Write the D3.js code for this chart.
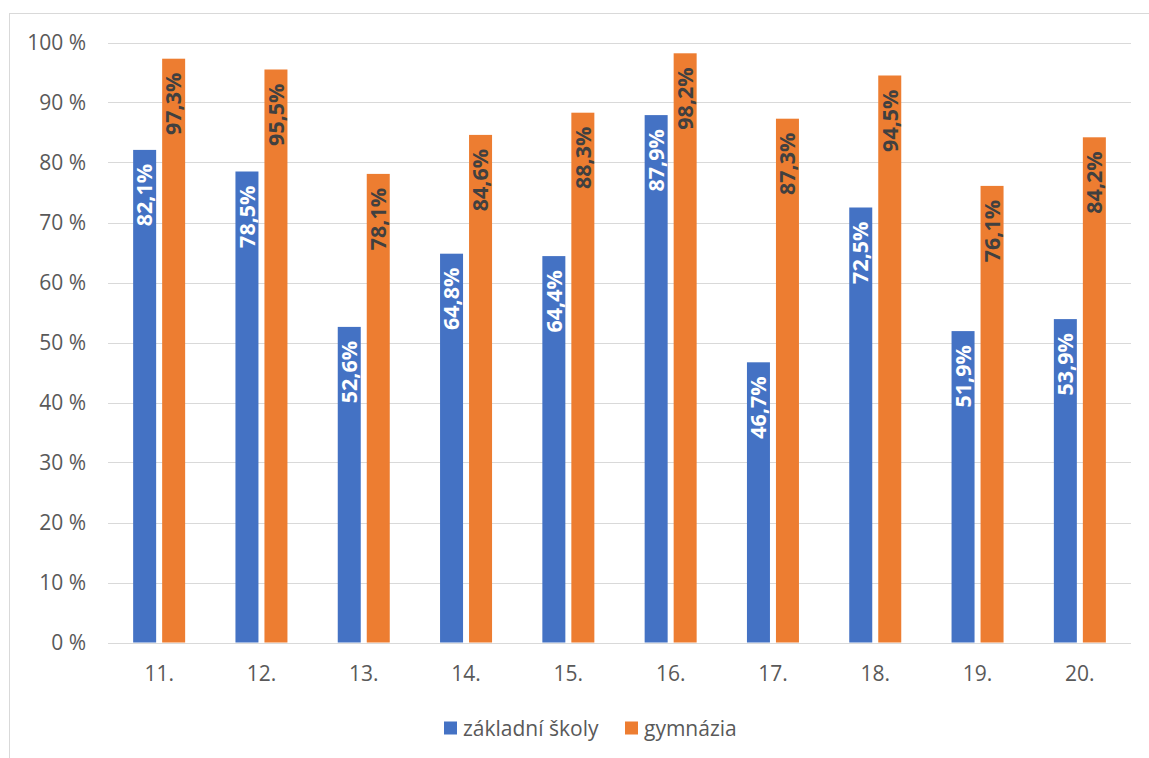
<!DOCTYPE html>
<html>
<head>
<meta charset="utf-8">
<script src="https://cdn.jsdelivr.net/npm/d3@7"></script>
<style>
  html, body { margin: 0; padding: 0; background: #fff; }
  svg { display: block; }
  text { font-family: "Open Sans", "Noto Sans", sans-serif; }
</style>
</head>
<body>
<svg id="chart" width="1149" height="758"></svg>
<script>
const categories = ["11.", "12.", "13.", "14.", "15.", "16.", "17.", "18.", "19.", "20."];
const seriesNames = ["základní školy", "gymnázia"];
const zakladniSkoly = [82.1, 78.5, 52.6, 64.8, 64.4, 87.9, 46.7, 72.5, 51.9, 53.9];
const gymnazia = [97.3, 95.5, 78.1, 84.6, 88.3, 98.2, 87.3, 94.5, 76.1, 84.2];
const yTicks = [0, 10, 20, 30, 40, 50, 60, 70, 80, 90, 100];
const colors = ["#4472C4", "#ED7D31"];
const labelColors = ["#ffffff", "#404040"];

const seriesValues = [zakladniSkoly, gymnazia];

const svg = d3.select("#chart");

// outer frame
svg.append("rect")
  .attr("x", 9.5).attr("y", 13.5)
  .attr("width", 1400).attr("height", 1000)
  .attr("fill", "none").attr("stroke", "#d9d9d9").attr("stroke-width", 1);

const x0 = d3.scaleBand().domain(categories).range([108, 1131]).padding(0);
const groupW = 52;
const x1 = d3.scaleBand().domain(seriesNames)
  .range([x0.bandwidth() / 2 - groupW / 2, x0.bandwidth() / 2 + groupW / 2])
  .paddingInner(0.207).paddingOuter(0);
const y = d3.scaleLinear().domain([0, 100]).range([642.5, 42.5]);

// gridlines
svg.append("g").selectAll("line").data(yTicks).join("line")
  .attr("x1", 108).attr("x2", 1131)
  .attr("y1", d => Math.round(y(d)) + 0.5).attr("y2", d => Math.round(y(d)) + 0.5)
  .attr("stroke", "#d9d9d9").attr("stroke-width", 1);

// y tick labels
svg.append("g").selectAll("text").data(yTicks).join("text")
  .attr("x", 86).attr("y", d => y(d))
  .attr("dy", "0.35em")
  .attr("text-anchor", "end")
  .attr("font-size", 21).attr("fill", "#595959")
  .text(d => d + " %");

// category labels
svg.append("g").selectAll("text").data(categories).join("text")
  .attr("x", d => x0(d) + x0.bandwidth() / 2)
  .attr("y", 681)
  .attr("text-anchor", "middle")
  .attr("font-size", 21).attr("fill", "#595959")
  .text(d => d);

// bars
const rows = categories.map((c, i) => ({ cat: c, vals: seriesNames.map((s, j) => ({ s, j, v: seriesValues[j][i] })) }));
const groups = svg.append("g").selectAll("g").data(rows).join("g")
  .attr("transform", d => `translate(${x0(d.cat)},0)`);

groups.selectAll("rect").data(d => d.vals).join("rect")
  .attr("x", d => x1(d.s))
  .attr("y", d => y(d.v))
  .attr("width", x1.bandwidth())
  .attr("height", d => y(0) - y(d.v))
  .attr("fill", d => colors[d.j]);

groups.selectAll("text").data(d => d.vals).join("text")
  .attr("transform", d => `translate(${x1(d.s) + x1.bandwidth() / 2},${y(d.v) + 14}) rotate(-90)`)
  .attr("dy", "0.36em")
  .attr("text-anchor", "end")
  .attr("font-size", 21.5).attr("font-weight", "bold")
  .attr("fill", d => labelColors[d.j])
  .text(d => d3.format(".1f")(d.v).replace(".", ",") + "%");

// legend
const legendItems = [
  { name: seriesNames[0], color: colors[0], x: 444 },
  { name: seriesNames[1], color: colors[1], x: 625 }
];
const lg = svg.append("g").selectAll("g").data(legendItems).join("g");
lg.append("rect")
  .attr("x", d => d.x).attr("y", 721.5)
  .attr("width", 13).attr("height", 13)
  .attr("fill", d => d.color);
lg.append("text")
  .attr("x", d => d.x + 19).attr("y", 736)
  .attr("font-size", 21).attr("fill", "#595959")
  .text(d => d.name);
</script>
</body>
</html>
